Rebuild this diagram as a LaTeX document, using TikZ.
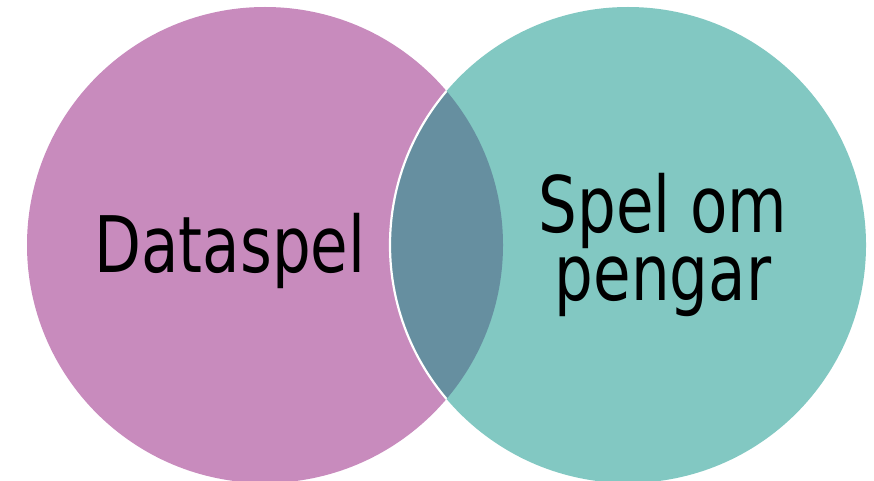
\documentclass[tikz,border=0pt]{standalone}
\usepackage{fontspec}
\usepackage{graphicx}
\setmainfont{DejaVu Sans Condensed}
\definecolor{pinkc}{HTML}{C88BBD}
\definecolor{tealc}{HTML}{82C8C2}
\definecolor{overc}{HTML}{668FA0}
\begin{document}
\begin{tikzpicture}[x=1pt,y=-1pt,
  lbl/.style={anchor=base,inner sep=0pt,align=center,font=\fontsize{78}{68}\selectfont}]
\useasboundingbox (0,0) rectangle (874,481);
\begin{scope}
\clip (0,0) rectangle (874,481);
\coordinate (cl) at (265,245);
\coordinate (cr) at (628,245);
\fill[pinkc] (cl) circle[radius=238];
\fill[tealc] (cr) circle[radius=238];
\begin{scope}
\clip (cl) circle[radius=238];
\fill[overc] (cr) circle[radius=238];
\draw[white,line width=2.2] (cr) circle[radius=238];
\end{scope}
\end{scope}
\node[lbl] (t1) at (230,272) {\scalebox{0.87}[1]{Dataspel}};
\node[lbl] (t2) at (663,300) {\scalebox{0.87}[1]{Spel\ om}\\\scalebox{0.87}[1]{pengar}};
\end{tikzpicture}
\end{document}
